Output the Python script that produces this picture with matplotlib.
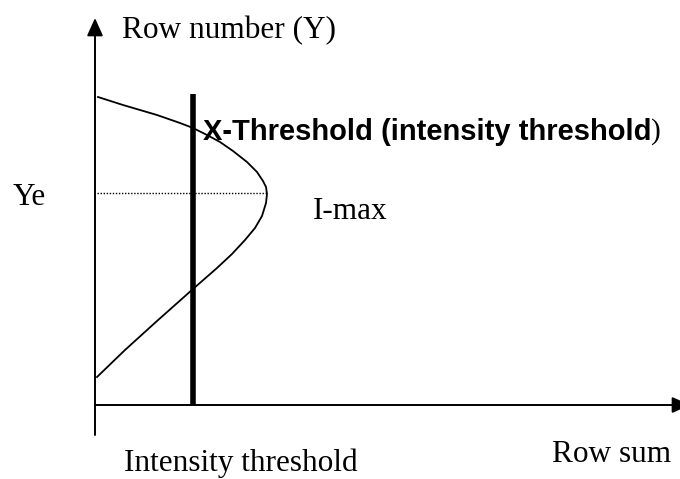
import matplotlib
matplotlib.use("Agg")
import matplotlib.pyplot as plt

# Data (row sum on x, row number on y; arbitrary units)
row_sum = [3, 28, 62, 85, 98, 112, 125, 138, 152, 162, 168, 171, 172, 171, 167,
           160, 150, 137, 122, 98, 62, 30, 2]
row_number = [308, 300, 290, 282, 277, 270, 263, 254, 243, 233, 224, 218, 211, 202, 189,
              177, 165, 151, 137, 116, 84, 55, 28]
threshold_x = 98
threshold_top = 311
ye_value = 212
imax_value = 172

labels = {
    "y_axis": "Row number (Y)",
    "x_axis": "Row sum",
    "ye": "Ye",
    "imax": "I-max",
    "thr_bottom": "Intensity threshold",
    "thr_title": "X-Threshold (intensity threshold",
}

fig = plt.figure(figsize=(6.8, 4.79), dpi=100)
ax = fig.add_axes([0, 0, 1, 1])
ax.set_xlim(-95, 585)
ax.set_ylim(-74, 405)
ax.axis("off")

serif = "Liberation Serif"
sans = "Liberation Sans"

# Axes with arrows
arrow_style = "-|>,head_length=0.4,head_width=0.18"
ax.annotate("", xy=(0, 387), xytext=(0, -30),
            arrowprops=dict(arrowstyle=arrow_style, mutation_scale=27,
                            lw=1.4, color="black", shrinkA=0, shrinkB=0))
ax.annotate("", xy=(595, 0), xytext=(0, 0), annotation_clip=False,
            arrowprops=dict(arrowstyle=arrow_style, mutation_scale=27,
                            lw=1.4, color="black", shrinkA=0, shrinkB=0))

# Intensity profile curve
ax.plot(row_sum, row_number, color="black", lw=1.3, solid_joinstyle="round")

# Dotted line at Ye to I-max
ax.plot([2, imax_value - 1], [ye_value, ye_value], color="black", lw=1.0,
        linestyle=(0, (1, 1.2)))

# Threshold bar
ax.plot([threshold_x, threshold_x], [0, threshold_top], color="black", lw=4.0,
        solid_capstyle="butt")

# Texts
ax.text(27, 367, labels["y_axis"], family=serif, fontsize=22.5, va="baseline", ha="left")
ax.text(-82, 200, labels["ye"], family=serif, fontsize=22.5, va="baseline", ha="left")
ax.text(218, 186, labels["imax"], family=serif, fontsize=22.5, va="baseline", ha="left")
ax.text(29, -66, labels["thr_bottom"], family=serif, fontsize=22.5, va="baseline", ha="left")
ax.text(457, -57, labels["x_axis"], family=serif, fontsize=22.5, va="baseline", ha="left")
t = ax.text(108, 265, labels["thr_title"], family=sans, fontweight="bold",
            fontsize=21, va="baseline", ha="left")
ax.annotate(")", xy=(1, 0.5), xycoords=t, family=serif, fontsize=21,
            va="center", ha="left")

fig.savefig("out.png", dpi=100)
